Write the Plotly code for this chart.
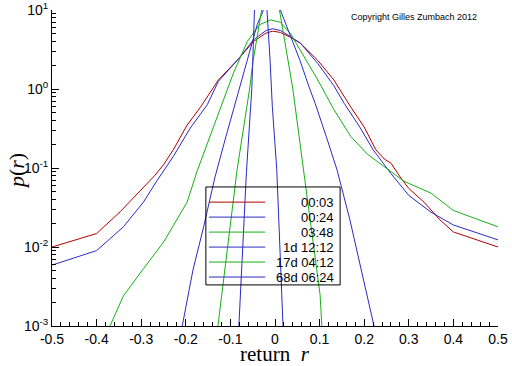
import plotly.graph_objects as go

# ---------------- data ----------------
names = ["00:03", "00:24", "03:48", "1d 12:12", "17d 04:12", "68d 06:24"]
colors = ["#b40000", "#2a2ac4", "#16b016", "#2a2ac4", "#16b016", "#2a2ac4"]

r_0003 = [-0.5, -0.4, -0.347, -0.296, -0.27, -0.25, -0.228, -0.197, -0.167, -0.127, -0.10, -0.082,
          -0.048, -0.02, -0.005, 0.012, 0.035, 0.057, 0.096, 0.132, 0.17, 0.2, 0.226, 0.245, 0.26,
          0.282, 0.30, 0.334, 0.37, 0.40, 0.5]
p_0003 = [0.0100, 0.0148, 0.028, 0.055, 0.080, 0.11, 0.17, 0.35, 0.59, 1.3, 1.9, 2.4,
          4.0, 5.1, 5.4, 5.2, 4.5, 3.8, 2.3, 1.3, 0.59, 0.33, 0.17, 0.13, 0.115,
          0.075, 0.055, 0.037, 0.022, 0.0155, 0.0100]

r_0024 = [-0.5, -0.4, -0.34, -0.295, -0.264, -0.228, -0.19, -0.152, -0.127, -0.082, -0.048, -0.02,
          -0.005, 0.012, 0.035, 0.057, 0.096, 0.132, 0.155, 0.19, 0.22, 0.26, 0.30, 0.35, 0.40, 0.5]
p_0024 = [0.0059, 0.0090, 0.018, 0.037, 0.070, 0.14, 0.32, 0.63, 1.25, 2.4, 4.2, 5.5,
          5.8, 5.5, 4.6, 3.8, 2.1, 1.1, 0.66, 0.33, 0.17, 0.085, 0.045, 0.0275, 0.019, 0.0123]

r_0348 = [-0.37, -0.34, -0.295, -0.25, -0.197, -0.175, -0.138, -0.11, -0.093, -0.062, -0.035, -0.01,
          0.012, 0.035, 0.057, 0.096, 0.132, 0.17, 0.207, 0.244, 0.289, 0.35, 0.40, 0.5]
p_0348 = [0.0010, 0.0024, 0.0053, 0.0115, 0.037, 0.09, 0.33, 0.9, 1.6, 4.0, 6.5, 7.5,
          7.0, 5.0, 3.1, 1.3, 0.55, 0.25, 0.15, 0.105, 0.068, 0.048, 0.029, 0.018]

r_1d = [-0.208, -0.184, -0.16, -0.135, -0.11, -0.08, -0.06, -0.04, -0.02, -0.005, 0.012, 0.035,
        0.056, 0.078, 0.09, 0.115, 0.139, 0.168, 0.197, 0.222]
p_1d = [0.0010, 0.0051, 0.018, 0.075, 0.25, 1.0, 2.6, 6.5, 12.0, 14.0, 10.0, 4.6,
        2.3, 1.0, 0.66, 0.25, 0.095, 0.022, 0.004, 0.0010]

r_17d = [-0.128, -0.11, -0.085, -0.057, -0.049, -0.03, -0.01, 0.01, 0.029, 0.04, 0.067, 0.085,
         0.101, 0.105]
p_17d = [0.0010, 0.0065, 0.095, 1.0, 2.3, 10.0, 17.0, 10.0, 2.3, 1.0, 0.07, 0.012,
         0.0025, 0.0010]

r_68d = [-0.081, -0.072, -0.064, -0.052, -0.046, -0.03, -0.018, -0.011, -0.006, 0.004, 0.011, 0.018]
p_68d = [0.0010, 0.012, 0.09, 1.0, 10.0, 35.0, 10.0, 2.3, 0.6, 0.095, 0.012, 0.0010]

series_r = [r_0003, r_0024, r_0348, r_1d, r_17d, r_68d]
series_p = [p_0003, p_0024, p_0348, p_1d, p_17d, p_68d]

x_tick_vals = [-0.5, -0.4, -0.3, -0.2, -0.1, 0.0, 0.1, 0.2, 0.3, 0.4, 0.5]
x_tick_text = ["-0.5", "-0.4", "-0.3", "-0.2", "-0.1", "0", "0.1", "0.2", "0.3", "0.4", "0.5"]
y_tick_vals = [0.001, 0.01, 0.1, 1, 10]
y_tick_text = ["10<sup>-3</sup>", "10<sup>-2</sup>", "10<sup>-1</sup>", "10<sup>0</sup>", "10<sup>1</sup>"]
y_minor_vals = [m * d for d in [0.001, 0.01, 0.1, 1] for m in range(2, 10)]

# ---------------- figure ----------------
fig = go.Figure()
for r, p, n, c in zip(series_r, series_p, names, colors):
    fig.add_trace(go.Scatter(x=r, y=p, mode="lines", name=n,
                             line=dict(color=c, width=1), showlegend=False))

sans = "Liberation Sans, Arial, sans-serif"
serif = "Liberation Serif, Times New Roman, serif"
tick_font = dict(family=sans, size=14, color="black")

fig.update_xaxes(range=[-0.5, 0.5], tickvals=x_tick_vals, ticktext=x_tick_text,
                 ticks="inside", ticklen=7, tickcolor="black", tickwidth=1,
                 minor=dict(dtick=0.02, ticks="inside", ticklen=4, tickcolor="black"),
                 showline=True, linecolor="black", linewidth=1, showgrid=False, zeroline=False,
                 tickfont=tick_font, automargin=False)
fig.update_yaxes(type="log", range=[-3, 1], tickvals=y_tick_vals, ticktext=y_tick_text,
                 ticks="inside", ticklen=7, tickcolor="black", tickwidth=1,
                 minor=dict(tickvals=y_minor_vals, ticks="inside", ticklen=4, tickcolor="black"),
                 showline=True, linecolor="black", linewidth=1, showgrid=False, zeroline=False,
                 tickfont=tick_font, automargin=False)

# axis titles
fig.add_annotation(xref="paper", yref="paper", x=0.5, y=-0.09, text="return  <i>r</i>",
                   showarrow=False, xanchor="center", yanchor="middle",
                   font=dict(family=serif, size=21, color="black"))
fig.add_annotation(xref="paper", yref="paper", x=-0.081, y=0.49, text="<i>p</i>(<i>r</i>)",
                   showarrow=False, xanchor="center", yanchor="middle", textangle=-90,
                   font=dict(family=serif, size=22, color="black"))

# custom legend box (right-aligned labels)
lx0, lx1, ly0, ly1 = 0.345, 0.646, 0.130, 0.440
fig.add_shape(type="rect", xref="paper", yref="paper", x0=lx0, x1=lx1, y0=ly0, y1=ly1,
              line=dict(color="black", width=1), fillcolor="rgba(0,0,0,0)")
for i, (n, c) in enumerate(zip(names, colors)):
    yy = 0.392 - i * 0.0474
    fig.add_shape(type="line", xref="paper", yref="paper", x0=0.352, x1=0.478, y0=yy, y1=yy,
                  line=dict(color=c, width=1))
    fig.add_annotation(xref="paper", yref="paper", x=0.637, y=yy, text=n, showarrow=False,
                       xanchor="right", yanchor="middle",
                       font=dict(family=sans, size=13, color="black"))

fig.add_annotation(xref="paper", yref="paper", x=0.957, y=0.978, text="Copyright Gilles Zumbach 2012",
                   showarrow=False, xanchor="right", yanchor="middle",
                   font=dict(family=sans, size=9, color="black"))

fig.update_layout(width=512, height=366, margin=dict(l=52, r=14, t=10, b=40),
                  paper_bgcolor="white", plot_bgcolor="white", showlegend=False)

# remove the default 8px page margin so the 512x366 figure fills the window exactly
fig.write_html("out.html", config={"displayModeBar": False},
               post_script="document.body.style.margin='0';")
